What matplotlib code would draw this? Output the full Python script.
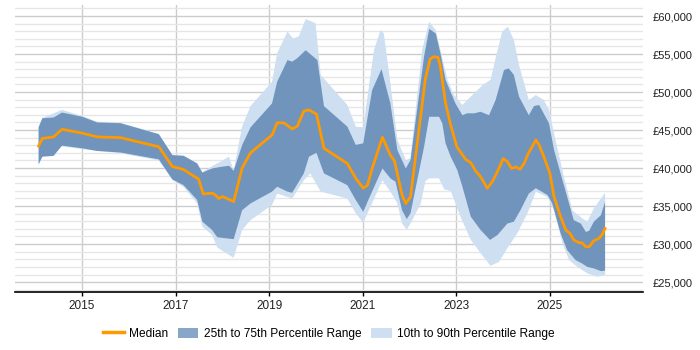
import matplotlib
matplotlib.use("Agg")
import matplotlib.pyplot as plt
from matplotlib.ticker import MultipleLocator, FuncFormatter
from matplotlib.patches import Patch
from matplotlib.lines import Line2D

plt.rcParams['font.family'] = ['Liberation Sans', 'DejaVu Sans']

# Median
med_x = [2014.07, 2014.15, 2014.39, 2014.57, 2015.00, 2015.32, 2015.82, 2016.64, 2016.93, 2017.17,
         2017.49, 2017.59, 2017.78, 2017.85, 2017.92, 2018.00, 2018.24, 2018.42, 2018.60, 2019.06,
         2019.17, 2019.31, 2019.49, 2019.60, 2019.74, 2019.85, 2020.01, 2020.17, 2020.67, 2020.85,
         2021.01, 2021.10, 2021.20, 2021.42, 2021.59, 2021.68, 2021.84, 2021.92, 2022.02, 2022.34,
         2022.44, 2022.52, 2022.61, 2022.66, 2022.77, 2022.88, 2023.01, 2023.20, 2023.31, 2023.41,
         2023.52, 2023.66, 2023.77, 2023.91, 2024.00, 2024.09, 2024.18, 2024.27, 2024.36, 2024.45,
         2024.52, 2024.70, 2024.77, 2024.87, 2025.00, 2025.09, 2025.23, 2025.34, 2025.43, 2025.51,
         2025.62, 2025.69, 2025.77, 2025.84, 2025.94, 2026.05, 2026.12, 2026.18]
med_y = [42900, 43900, 44100, 45100, 44600, 44100, 44000, 42800, 40200, 39800,
         38550, 36600, 36700, 36450, 36000, 36250, 35600, 40000, 42000, 44350,
         45950, 45950, 45150, 45500, 47500, 47650, 47100, 42600, 40600, 38650,
         37350, 37750, 39950, 44050, 41700, 40900, 36450, 35350, 36200, 51800,
         54350, 54650, 54550, 53300, 48500, 45650, 42800, 41150, 40700, 39650,
         38850, 37350, 38200, 39950, 41250, 40850, 39950, 40150, 39850, 40600,
         41700, 43700, 43050, 41500, 39300, 36200, 33600, 31850, 31400, 30550,
         30200, 30150, 29650, 29650, 30450, 30750, 31300, 32050]

# 75th percentile
p75_x = [2014.07, 2014.15, 2014.39, 2014.57, 2015.00, 2015.32, 2015.82, 2016.64, 2016.93, 2017.17,
         2017.46, 2017.57, 2017.78, 2017.96, 2018.14, 2018.24, 2018.42, 2018.60, 2019.06, 2019.17,
         2019.39, 2019.49, 2019.60, 2019.78, 2020.03, 2020.17, 2020.67, 2020.85, 2021.01, 2021.20,
         2021.40, 2021.59, 2021.74, 2021.92, 2022.02, 2022.31, 2022.42, 2022.56, 2022.66, 2022.77,
         2022.98, 2023.13, 2023.23, 2023.38, 2023.52, 2023.70, 2023.84, 2024.02, 2024.12, 2024.23,
         2024.34, 2024.55, 2024.66, 2024.77, 2024.98, 2025.09, 2025.27, 2025.41, 2025.51, 2025.66,
         2025.77, 2025.84, 2025.94, 2026.09, 2026.18]
p75_y = [45350, 46550, 46650, 47300, 46750, 46000, 45900, 44450, 41700, 41600,
         40600, 39400, 39950, 40150, 40300, 39650, 43000, 45350, 48500, 51350,
         54200, 54000, 54450, 55500, 54200, 48150, 45450, 43050, 43250, 50250,
         53000, 48500, 42350, 39950, 41050, 54650, 58300, 57700, 55100, 51600,
         48500, 46950, 47200, 47200, 47400, 46950, 48950, 52900, 53100, 52250,
         49400, 46950, 48150, 48300, 45900, 42350, 38400, 35350, 33150, 32700,
         31600, 31750, 32950, 33800, 35550]

# 25th percentile
p25_x = [2014.07, 2014.15, 2014.39, 2014.57, 2015.00, 2015.32, 2015.82, 2016.64, 2016.93, 2017.17,
         2017.46, 2017.57, 2017.78, 2017.89, 2018.24, 2018.42, 2018.60, 2019.06, 2019.17, 2019.39,
         2019.49, 2019.74, 2019.85, 2020.01, 2020.17, 2020.67, 2020.85, 2021.01, 2021.10, 2021.42,
         2021.59, 2021.70, 2021.84, 2021.94, 2022.02, 2022.31, 2022.42, 2022.63, 2022.70, 2022.77,
         2022.88, 2023.02, 2023.13, 2023.31, 2023.52, 2023.72, 2023.88, 2024.09, 2024.23, 2024.37,
         2024.55, 2024.70, 2024.95, 2025.05, 2025.23, 2025.37, 2025.55, 2025.69, 2025.80, 2025.94,
         2026.09, 2026.18]
p25_y = [40500, 41500, 41600, 42950, 42600, 42250, 42050, 41150, 38500, 37750,
         35800, 32950, 31850, 30900, 30650, 34450, 35350, 36900, 37550, 36900,
         36750, 39300, 41500, 42000, 39300, 37750, 35800, 34250, 35550, 39950,
         38650, 38200, 34450, 33300, 34050, 42800, 46750, 46750, 45900, 43250,
         41500, 39750, 37550, 33600, 31850, 30550, 31200, 32700, 32950, 34450,
         36650, 37350, 36450, 35350, 31400, 29200, 27900, 27450, 27000, 26800,
         26450, 26500]

# 90th percentile
p90_x = [2014.07, 2014.15, 2014.57, 2015.00, 2015.32, 2015.82, 2016.64, 2016.93, 2017.17, 2017.46,
         2017.57, 2017.78, 2017.96, 2018.14, 2018.24, 2018.42, 2018.60, 2019.06, 2019.17, 2019.39,
         2019.51, 2019.63, 2019.78, 2019.99, 2020.10, 2020.67, 2020.85, 2021.01, 2021.24, 2021.38,
         2021.45, 2021.59, 2021.74, 2021.92, 2022.02, 2022.27, 2022.42, 2022.56, 2022.66, 2022.81,
         2022.95, 2023.13, 2023.31, 2023.56, 2023.73, 2023.84, 2023.98, 2024.10, 2024.23, 2024.34,
         2024.55, 2024.70, 2024.87, 2024.98, 2025.12, 2025.30, 2025.48, 2025.69, 2025.80, 2025.94,
         2026.18]
p90_y = [45400, 46600, 47650, 46850, 46100, 45950, 44500, 41750, 41650, 40650,
         39450, 40250, 40850, 41500, 39650, 45450, 48150, 51350, 55100, 57950,
         57050, 57300, 59600, 59050, 52250, 48300, 45450, 45350, 55550, 58150,
         57700, 51150, 43700, 41050, 41300, 55550, 59250, 58150, 55550, 51600,
         49600, 48300, 49400, 50900, 51600, 54450, 57950, 58600, 56850, 53550,
         48950, 49600, 48950, 47650, 43700, 38850, 34450, 33400, 32950, 34700,
         36750]

# 10th percentile
p10_x = [2014.07, 2014.15, 2014.57, 2015.00, 2015.82, 2016.64, 2016.93, 2017.17, 2017.46, 2017.57,
         2017.78, 2017.89, 2018.24, 2018.42, 2018.60, 2019.06, 2019.17, 2019.49, 2019.74, 2019.88,
         2020.10, 2020.67, 2020.85, 2021.01, 2021.10, 2021.42, 2021.59, 2021.74, 2021.84, 2021.94,
         2022.02, 2022.24, 2022.34, 2022.42, 2022.63, 2022.74, 2022.88, 2023.09, 2023.31, 2023.52,
         2023.73, 2023.91, 2024.09, 2024.30, 2024.52, 2024.70, 2024.95, 2025.09, 2025.27, 2025.41,
         2025.59, 2025.80, 2026.01, 2026.18]
p10_y = [40450, 41450, 42850, 42500, 41950, 41000, 38450, 37500, 35350, 32300,
         31200, 29550, 28200, 31850, 33150, 35150, 36650, 36000, 38400, 39300,
         36900, 36000, 34050, 32800, 34050, 38400, 36900, 35350, 32700, 31900,
         32700, 35350, 38300, 38650, 38650, 37200, 37000, 33600, 30550, 28800,
         27150, 27650, 29450, 31400, 34050, 36900, 36200, 34450, 30100, 27900,
         27000, 26150, 25700, 25950]

year_ticks = [2015, 2017, 2019, 2021, 2023, 2025]

dark = '#7094bc'
light = '#cddff0'
orange = '#ff9900'

fig = plt.figure(figsize=(7, 3.5), dpi=100)
ax = fig.add_axes([15/700, 1 - 292/350, (642.5 - 15)/700, (292 - 4.6)/350])

ax.fill(p90_x + p10_x[::-1], p90_y + p10_y[::-1], color=light, lw=0, zorder=2)
ax.fill(p75_x + p25_x[::-1], p75_y + p25_y[::-1], color=dark, lw=0, zorder=3)
ax.plot(med_x, med_y, color=orange, lw=2, zorder=4, solid_joinstyle='round')

ax.set_xlim(2013.565, 2026.98)
ax.set_ylim(23700, 61500)
ax.set_xticks(year_ticks)
ax.set_xticklabels([str(y) for y in year_ticks])
ax.yaxis.set_major_locator(MultipleLocator(5000))
ax.yaxis.set_minor_locator(MultipleLocator(1000))
ax.yaxis.set_major_formatter(FuncFormatter(lambda v, p: '£{:,.0f}'.format(v)))
ax.yaxis.tick_right()
ax.tick_params(axis='y', which='both', length=0, labelsize=8, pad=7.5, labelcolor='#222222')
ax.tick_params(axis='x', length=3, width=1, color='#000000', labelsize=8.5, pad=2.5,
               labelcolor='#222222')

ax.grid(axis='y', which='major', color='#cccccc', lw=1, zorder=0)
ax.grid(axis='y', which='minor', color='#e6e6e6', lw=1, zorder=0)
ax.grid(axis='x', which='major', color='#cccccc', lw=1, zorder=0)
ax.set_axisbelow(True)
for s in ['top', 'left', 'right']:
    ax.spines[s].set_visible(False)
ax.spines['bottom'].set_color('#000000')
ax.spines['bottom'].set_linewidth(1.2)

handles = [Line2D([0], [0], color=orange, lw=2.5),
           Patch(facecolor='#88a6c8', edgecolor='none'),
           Patch(facecolor=light, edgecolor='none')]
labels = ['Median', '25th to 75th Percentile Range', '10th to 90th Percentile Range']
fig.legend(handles, labels, loc='center', bbox_to_anchor=(0.47, 0.046), ncol=3,
           frameon=False, fontsize=8.6, handlelength=1.68, handleheight=1.0,
           columnspacing=0.85, handletextpad=0.45)

fig.savefig('out.png', dpi=100)
